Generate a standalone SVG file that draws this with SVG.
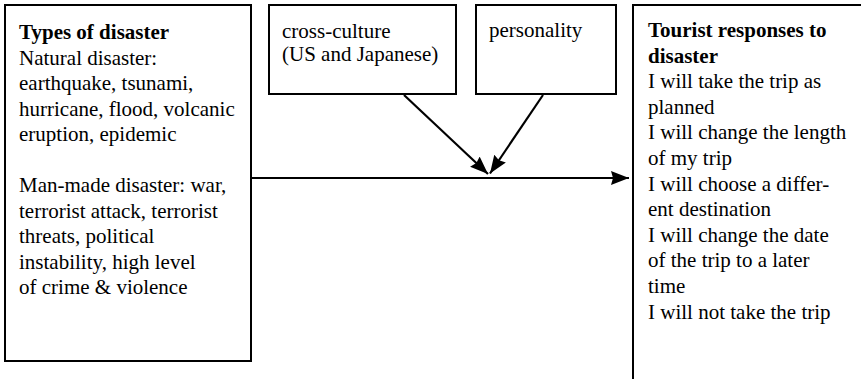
<svg xmlns="http://www.w3.org/2000/svg" width="861" height="379" viewBox="0 0 861 379">
<style>
.box{fill:#fff;stroke:#000;stroke-width:2}
.t{font-family:"Liberation Serif","Times New Roman",serif;font-size:21px;fill:#000}
.b{font-weight:bold}
.c{stroke:#000;stroke-width:2.2;fill:none}
</style>
<defs>
<marker id="ah" markerUnits="userSpaceOnUse" markerWidth="20" markerHeight="16" refX="18" refY="7" orient="auto">
<path d="M0,0 L18,7 L0,14 L2,7 z" fill="#000"/>
</marker>
</defs>
<rect width="861" height="379" fill="#fff"/>
<g id="types">
<rect class="box" x="5" y="5" width="246" height="356"/>
<text class="t" x="19" y="39"><tspan class="b">Types of disaster</tspan>
<tspan x="19" dy="25.5">Natural disaster:</tspan>
<tspan x="19" dy="25.5">earthquake, tsunami,</tspan>
<tspan x="19" dy="25.5">hurricane, flood, volcanic</tspan>
<tspan x="19" dy="25.5">eruption, epidemic</tspan>
<tspan x="19" dy="51">Man-made disaster: war,</tspan>
<tspan x="19" dy="25.5">terrorist attack, terrorist</tspan>
<tspan x="19" dy="25.5">threats, political</tspan>
<tspan x="19" dy="25.5">instability, high level</tspan>
<tspan x="19" dy="25.5">of crime &amp; violence</tspan></text>
</g>
<g id="culture">
<rect class="box" x="269" y="5" width="187" height="89"/>
<text class="t" x="282" y="38">cross-culture<tspan x="282" dy="23">(US and Japanese)</tspan></text>
</g>
<g id="personality">
<rect class="box" x="476" y="5" width="140" height="89"/>
<text class="t" x="489" y="37">personality</text>
</g>
<g id="responses">
<rect class="box" x="633" y="5" width="240" height="400"/>
<text class="t" x="648" y="37"><tspan class="b">Tourist responses to</tspan>
<tspan x="648" dy="25.6" class="b">disaster</tspan>
<tspan x="648" dy="25.6">I will take the trip as</tspan>
<tspan x="648" dy="25.6">planned</tspan>
<tspan x="648" dy="25.6">I will change the length</tspan>
<tspan x="648" dy="25.6">of my trip</tspan>
<tspan x="648" dy="25.6">I will choose a differ-</tspan>
<tspan x="648" dy="25.6">ent destination</tspan>
<tspan x="648" dy="25.6">I will change the date</tspan>
<tspan x="648" dy="25.6">of the trip to a later</tspan>
<tspan x="648" dy="25.6">time</tspan>
<tspan x="648" dy="25.6">I will not take the trip</tspan></text>
</g>
<g id="connectors">
<line class="c" x1="251" y1="178" x2="629" y2="178" marker-end="url(#ah)"/>
<line class="c" x1="404" y1="95" x2="488" y2="174" marker-end="url(#ah)"/>
<line class="c" x1="543" y1="95" x2="490" y2="173.5" marker-end="url(#ah)"/>
</g>
</svg>
